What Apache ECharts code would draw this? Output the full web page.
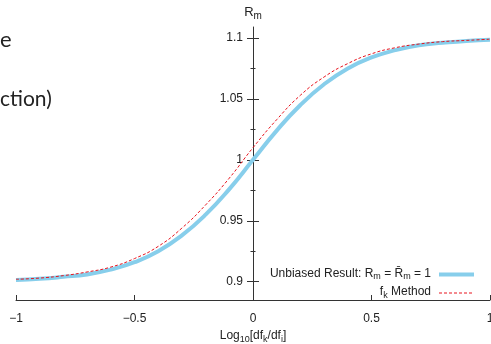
<!DOCTYPE html>
<html>
<head>
<meta charset="utf-8">
<script src="https://cdn.jsdelivr.net/npm/echarts@6/dist/echarts.min.js"></script>
<style>
  html, body { margin: 0; padding: 0; background: #fff; }
  #chart { width: 491px; height: 344px; }
</style>
</head>
<body>
<div id="chart"></div>
<script>
// log10 ratio on the x axis
const xValues = [-1, -0.9, -0.8, -0.7, -0.6, -0.5, -0.4, -0.3, -0.2, -0.1, 0,
  0.1, 0.2, 0.3, 0.4, 0.5, 0.6, 0.7, 0.8, 0.9, 1];
// unbiased result (blue, thick)
const unbiased = [0.9015, 0.9024, 0.904, 0.906, 0.910, 0.916, 0.925, 0.938, 0.955, 0.976, 1.000,
  1.024, 1.045, 1.062, 1.075, 1.084, 1.090, 1.094, 1.096, 1.0976, 1.0985];
// f_k method (red, dashed)
const fkMethod = [0.902, 0.903, 0.905, 0.908, 0.912, 0.919, 0.929, 0.944, 0.963, 0.985, 1.010,
  1.033, 1.053, 1.068, 1.079, 1.087, 1.092, 1.095, 1.097, 1.098, 1.099];
const yMajorTicks = [0.9, 0.95, 1, 1.05, 1.1];
const yMinorTicks = [0.925, 0.975, 1.025, 1.075];

const font = "Liberation Sans";
const axisColor = "#333";
const textColor = "#222";

// normal text + subscript rich styles (subscript pushed down by lineHeight trick)
const richSub = (size) => ({
  a: { fontFamily: font, fontSize: size, color: textColor, lineHeight: size + 2, verticalAlign: "top" },
  s: { fontFamily: font, fontSize: size - 3, color: textColor, lineHeight: 7, verticalAlign: "bottom" },
});

const chart = echarts.init(document.getElementById("chart"));

// the vertical axis sits at x = 0, i.e. the middle of the plot
const yBase = {
  type: "value",
  min: 0.885,
  max: 1.109,
  position: "left",
  offset: -237,
  splitLine: { show: false },
  axisLine: { show: false, onZero: false },
  axisLabel: { show: false },
};

const option = {
  animation: false,
  backgroundColor: "#fff",
  grid: { left: 16, right: 1, top: 27, bottom: 44, containLabel: false, outerBoundsMode: "none" },
  xAxis: {
    type: "value",
    min: -1,
    max: 1,
    interval: 0.5,
    splitLine: { show: false },
    axisLine: { onZero: false, lineStyle: { color: axisColor, width: 1 } },
    axisTick: { inside: true, length: 5, lineStyle: { color: axisColor } },
    axisLabel: {
      margin: 13,
      fontFamily: font,
      fontSize: 12,
      color: textColor,
      formatter: (v) => String(v).replace("-", "\u2212"),
    },
    name: "{a|Log}{s|10}{a|[df}{s|k}{a|/df}{s|i}{a|]}",
    nameLocation: "middle",
    nameGap: 22,
    nameTextStyle: { rich: richSub(12) },
  },
  yAxis: [
    Object.assign({}, yBase, {
      axisLine: { show: true, onZero: false, lineStyle: { color: axisColor, width: 1 } },
      axisTick: { show: true, length: 6, customValues: yMajorTicks, lineStyle: { color: axisColor } },
      axisLabel: {
        show: true,
        margin: 10,
        customValues: yMajorTicks,
        fontFamily: font,
        fontSize: 12,
        color: textColor,
      },
      name: "{a|R}{s|m}",
      nameLocation: "end",
      nameGap: 6,
      nameTextStyle: { rich: richSub(13) },
    }),
    Object.assign({}, yBase, {
      axisTick: { show: true, inside: true, length: 6, customValues: yMajorTicks, lineStyle: { color: axisColor } },
    }),
    Object.assign({}, yBase, {
      axisTick: { show: true, length: 2.5, customValues: yMinorTicks, lineStyle: { color: axisColor } },
    }),
    Object.assign({}, yBase, {
      axisTick: { show: true, inside: true, length: 2.5, customValues: yMinorTicks, lineStyle: { color: axisColor } },
    }),
  ],
  legend: {
    orient: "vertical",
    right: 10,
    top: 262.5,
    align: "right",
    itemWidth: 35,
    itemHeight: 14,
    itemGap: 4.5,
    itemStyle: { color: "rgba(0,0,0,0)", borderWidth: 0, opacity: 0 },
    textStyle: { rich: Object.assign(richSub(12), { e: { width: 3 } }) },
    formatter: (name) =>
      name === "unbiased"
        ? "{a|Unbiased Result: R}{s|m}{a| = R\u0304}{s|m}{a| = 1}{e| }"
        : "{a|f}{s|k}{a| Method}{e| }",
    data: [
      { name: "unbiased", lineStyle: { color: "#87ceeb", width: 4 } },
      { name: "fk", lineStyle: { color: "#e8141e", width: 1, type: [3, 2] } },
    ],
  },
  graphic: [
    { type: "text", left: 0, top: 29, style: { text: "e", fontFamily: "Lato", fontSize: 22, fill: "#222" } },
    { type: "text", left: 0, top: 89, style: { text: "ction)", fontFamily: "Lato", fontSize: 21, fill: "#222" } },
  ],
  series: [
    {
      name: "unbiased",
      type: "line",
      smooth: true,
      symbol: "none",
      data: xValues.map((x, i) => [x, unbiased[i]]),
      lineStyle: { color: "#87ceeb", width: 4 },
      itemStyle: { color: "#87ceeb" },
      z: 2,
    },
    {
      name: "fk",
      type: "line",
      smooth: true,
      symbol: "none",
      data: xValues.map((x, i) => [x, fkMethod[i]]),
      lineStyle: { color: "#e8141e", width: 1, type: [3, 2] },
      itemStyle: { color: "#e8141e" },
      z: 3,
    },
  ],
};

chart.setOption(option);
</script>
</body>
</html>
